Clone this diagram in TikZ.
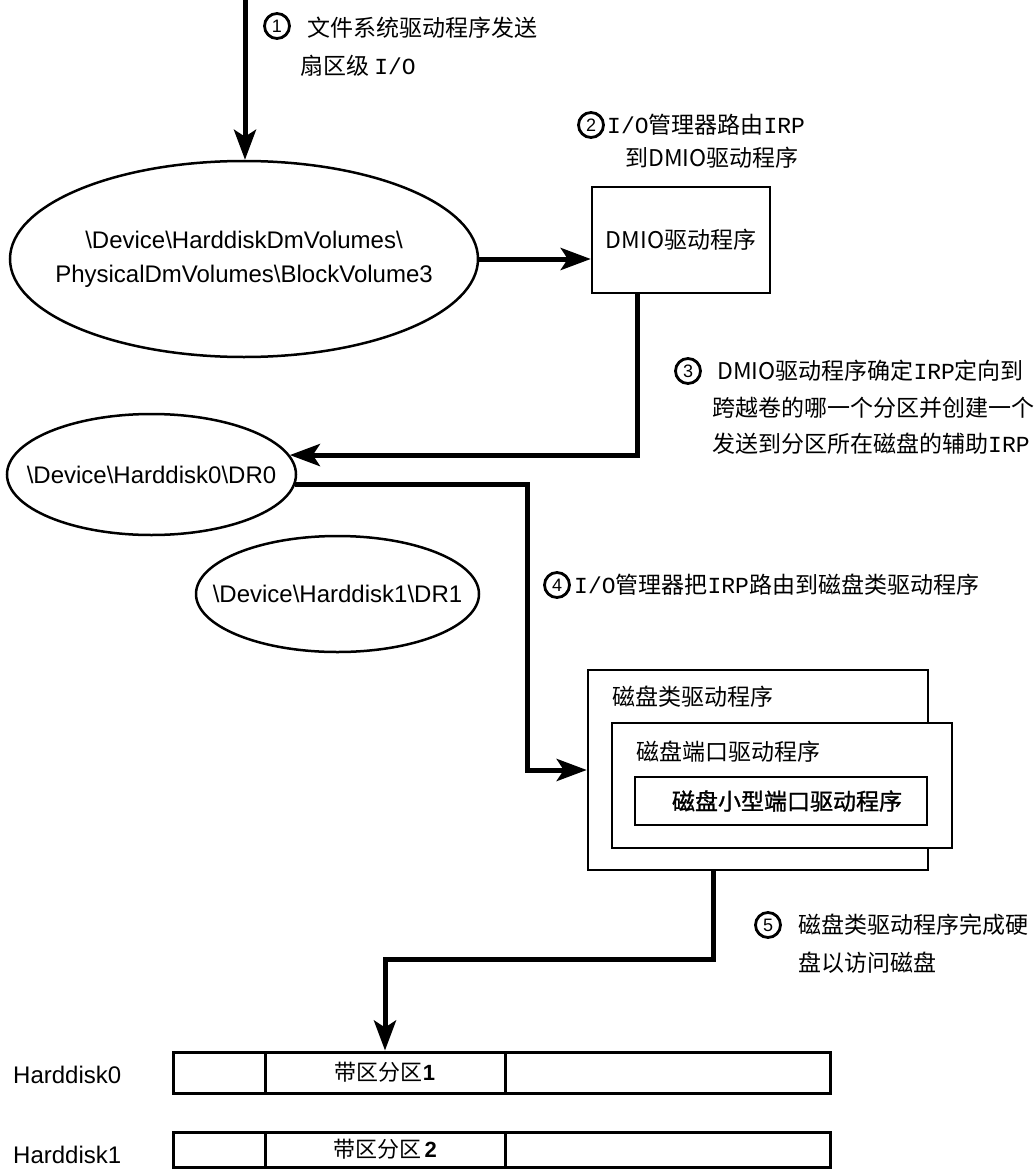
\documentclass[tikz,border=0pt]{standalone}
\usepackage{fontspec}
\setmainfont{Liberation Sans}
\newfontfamily\cjk{Noto Sans CJK SC}
\newfontfamily\cjkheavy{Noto Sans CJK SC}[FakeBold=1.2]
\newfontfamily\ttl{Liberation Mono}
\usetikzlibrary{arrows.meta,shapes.geometric,calc}
\newcommand\DevSep{\textbackslash}

\begin{document}
\begin{tikzpicture}[x=1pt,y=1pt,
  conn/.style={line width=5pt, -{Stealth[length=30pt,width=22pt,inset=7pt]}},
  oval/.style={ellipse, draw, line width=2.5pt, inner sep=0pt},
  ovaltext/.style={inner sep=0pt, align=center, font=\fontsize{24}{34}\selectfont},
  box/.style={draw, line width=2.5pt, fill=white, inner sep=0pt},
  lbl/.style={anchor=west, inner sep=0pt, font=\cjk\fontsize{23}{23}\selectfont},
  num/.style={circle, draw, line width=2.8pt, minimum size=25pt, inner sep=0pt,
              font=\fontsize{18}{18}\selectfont},
  seg/.style={draw, line width=3pt, inner sep=0pt, font=\cjk\fontsize{22}{22}\selectfont},
  disklbl/.style={anchor=west, inner sep=0pt, font=\fontsize{24}{24}\selectfont},
]
\useasboundingbox (0,0) rectangle (1035,-1169);
\fill[white] (0,0) rectangle (1035,-1169);

% volume objects (outline first, name text on top)
\node[oval, minimum width=468pt, minimum height=196pt] (vol) at (244,-259) {};
\node[ovaltext] (voltext) at (vol.center)
  {\DevSep Device\DevSep HarddiskDmVolumes\DevSep\\PhysicalDmVolumes\DevSep BlockVolume3};
\node[oval, minimum width=289pt, minimum height=121pt] (dr0) at (151.5,-474.5) {};
\node[ovaltext] (dr0text) at (dr0.center) {\DevSep Device\DevSep Harddisk0\DevSep DR0};
\node[oval, minimum width=283pt, minimum height=116pt] (dr1) at (337.5,-594) {};
\node[ovaltext] (dr1text) at (dr1.center) {\DevSep Device\DevSep Harddisk1\DevSep DR1};

% DMIO driver
\node[box, minimum width=178pt, minimum height=106pt, font=\cjk\fontsize{23}{23}\selectfont]
  (dmio) at (681,-240) {DMIO驱动程序};

% driver stack
\node[box, minimum width=340pt, minimum height=200pt] (cls) at (758,-770) {};
\node[lbl] (clslbl) at (612,-697) {磁盘类驱动程序};
\node[box, minimum width=340pt, minimum height=125pt] (port) at (782,-785.5) {};
\node[lbl] (portlbl) at (636,-752) {磁盘端口驱动程序};
\node[box, minimum width=292pt, minimum height=48pt] (mini) at (781,-801) {};
\node[inner sep=0pt, font=\cjkheavy\fontsize{23}{23}\selectfont] (minilbl) at (787,-801) {磁盘小型端口驱动程序};

% disks
\node[disklbl] (hd0) at (13,-1075) {Harddisk0};
\node[disklbl] (hd1) at (13,-1155) {Harddisk1};
\node[seg, minimum width=92pt, minimum height=41pt] (seg0a) at (219,-1072.5) {};
\node[seg, minimum width=240pt, minimum height=41pt] (seg0b) at (385,-1072.5)
  {带区分区{\bfseries\fontspec{Liberation Sans}1}};
\node[seg, minimum width=325pt, minimum height=41pt] (seg0c) at (667.5,-1072.5) {};
\node[seg, minimum width=92pt, minimum height=35pt] (seg1a) at (219,-1149.5) {};
\node[seg, minimum width=240pt, minimum height=35pt] (seg1b) at (385,-1149.5)
  {带区分区\,{\bfseries\fontspec{Liberation Sans}2}};
\node[seg, minimum width=325pt, minimum height=35pt] (seg1c) at (667.5,-1149.5) {};

% step labels
\node[num] (n1) at (277,-26) {1};
\node[lbl] (t1a) at (307,-28) {文件系统驱动程序发送};
\node[lbl] (t1b) at (300,-66) {扇区级 {\ttl I/O}};

\node[num] (n2) at (591,-125) {2};
\node[lbl] (t2a) at (607,-125) {{\ttl I/O}管理器路由{\ttl IRP}};
\node[lbl] (t2b) at (625,-158) {到DMIO驱动程序};

\node[num] (n3) at (688,-371) {3};
\node[lbl] (t3a) at (717,-371) {DMIO驱动程序确定{\ttl IRP}定向到};
\node[lbl] (t3b) at (712,-408) {跨越卷的哪一个分区并创建一个};
\node[lbl] (t3c) at (712,-444) {发送到分区所在磁盘的辅助{\ttl IRP}};

\node[num] (n4) at (557,-585) {4};
\node[lbl] (t4) at (574,-585) {{\ttl I/O}管理器把{\ttl IRP}路由到磁盘类驱动程序};

\node[num] (n5) at (768,-925) {5};
\node[lbl] (t5a) at (798,-925) {磁盘类驱动程序完成硬};
\node[lbl] (t5b) at (798,-963) {盘以访问磁盘};

% connectors
\coordinate (fsin) at (245,0);
\coordinate (bend4) at (527,-600);
\draw[conn] (fsin) -- (fsin |- vol.north);
\draw[conn] (vol.east) -- (vol.east -| dmio.west);
\draw[conn] ([xshift=-44pt]dmio.south) |- (dr0.8);
\draw[conn] (dr0.-4) -| (bend4) |- (cls.west);
\draw[conn] ([xshift=-45pt]cls.south) -- ++(0,-88) -| (seg0b.north);
\end{tikzpicture}
\end{document}
